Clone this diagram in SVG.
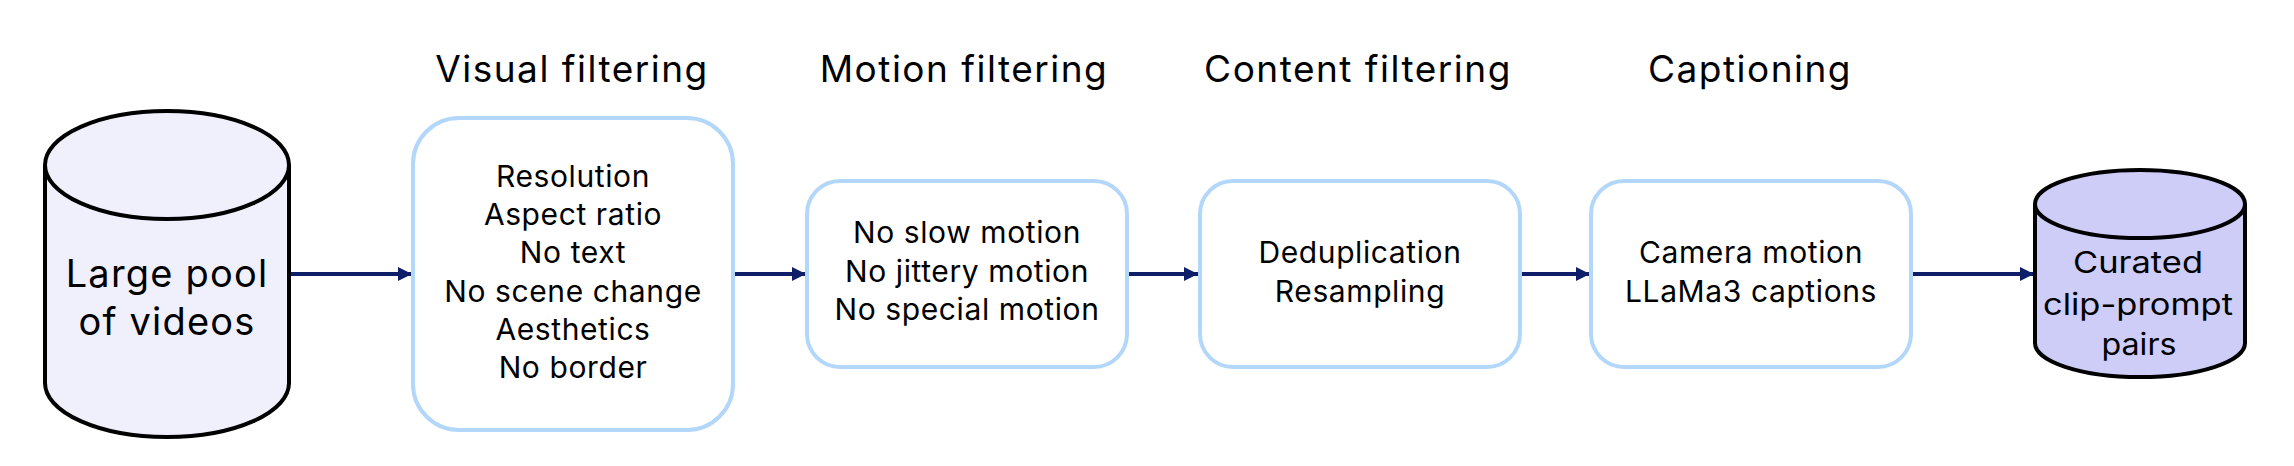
<svg xmlns="http://www.w3.org/2000/svg" width="2294" height="466" viewBox="0 0 2294 466">
<defs>
<style>
.t{font-family:Inter,"Open Sans","Liberation Sans",sans-serif;fill:#000;text-anchor:middle}
.title{font-size:37px;letter-spacing:1.5px}
.bx{font-size:30px;letter-spacing:0.6px}
.big{font-size:38px;letter-spacing:1.2px}
.sm{font-size:30px}
.box{fill:#fff;stroke:#b3d7fa;stroke-width:4}
.cyl{stroke:#000;stroke-width:4}
.edge{stroke:#0f1e69;stroke-width:4;fill:none;marker-end:url(#ah)}
</style>
<marker id="ah" viewBox="0 0 10 10" refX="10" refY="5" markerWidth="3.6" markerHeight="3.6" markerUnits="strokeWidth" orient="auto">
<path d="M0,0 L10,5 L0,10 z" fill="#0f1e69"/>
</marker>
</defs>
<rect width="2294" height="466" fill="#fff"/>
<g id="connectors">
<line class="edge" x1="291" y1="274" x2="412" y2="274"/>
<line class="edge" x1="735" y1="274" x2="806" y2="274"/>
<line class="edge" x1="1129" y1="274" x2="1198" y2="274"/>
<line class="edge" x1="1522" y1="274" x2="1590" y2="274"/>
<line class="edge" x1="1913" y1="274" x2="2034" y2="274"/>
</g>
<g id="source">
<path class="cyl" fill="#f0f0fd" d="M45,165 L45,383 A122,54 0 0 0 289,383 L289,165 A122,54 0 0 0 45,165 Z"/>
<path class="cyl" fill="none" d="M45,165 A122,54 0 0 0 289,165"/>
<text class="t big" x="167" y="287">Large pool</text>
<text class="t big" x="167" y="335">of videos</text>
</g>
<g id="visual">
<text class="t title" x="572" y="82">Visual filtering</text>
<rect class="box" x="413" y="118" width="320" height="312" rx="46"/>
<text class="t bx" x="573" y="187">Resolution</text>
<text class="t bx" x="573" y="225">Aspect ratio</text>
<text class="t bx" x="573" y="263">No text</text>
<text class="t bx" x="573" y="302">No scene change</text>
<text class="t bx" x="573" y="340">Aesthetics</text>
<text class="t bx" x="573" y="378">No border</text>
</g>
<g id="motion">
<text class="t title" x="964" y="82">Motion filtering</text>
<rect class="box" x="807" y="181" width="320" height="186" rx="33"/>
<text class="t bx" x="967" y="243">No slow motion</text>
<text class="t bx" x="967" y="282">No jittery motion</text>
<text class="t bx" x="967" y="320">No special motion</text>
</g>
<g id="content">
<text class="t title" x="1358" y="82">Content filtering</text>
<rect class="box" x="1200" y="181" width="320" height="186" rx="33"/>
<text class="t bx" x="1360" y="263">Deduplication</text>
<text class="t bx" x="1360" y="302">Resampling</text>
</g>
<g id="captioning">
<text class="t title" x="1750" y="82">Captioning</text>
<rect class="box" x="1591" y="181" width="320" height="186" rx="33"/>
<text class="t bx" x="1751" y="263">Camera motion</text>
<text class="t bx" x="1751" y="302">LLaMa3 captions</text>
</g>
<g id="output">
<path class="cyl" fill="#cecdf8" d="M2035,204 L2035,343 A105,34 0 0 0 2245,343 L2245,204 A105,34 0 0 0 2035,204 Z"/>
<path class="cyl" fill="none" d="M2035,204 A105,34 0 0 0 2245,204"/>
<text class="t sm" x="2138" y="273" textLength="130" lengthAdjust="spacingAndGlyphs">Curated</text>
<text class="t sm" x="2138" y="315" textLength="190" lengthAdjust="spacingAndGlyphs">clip-prompt</text>
<text class="t sm" x="2139" y="355" textLength="75" lengthAdjust="spacingAndGlyphs">pairs</text>
</g>
</svg>
